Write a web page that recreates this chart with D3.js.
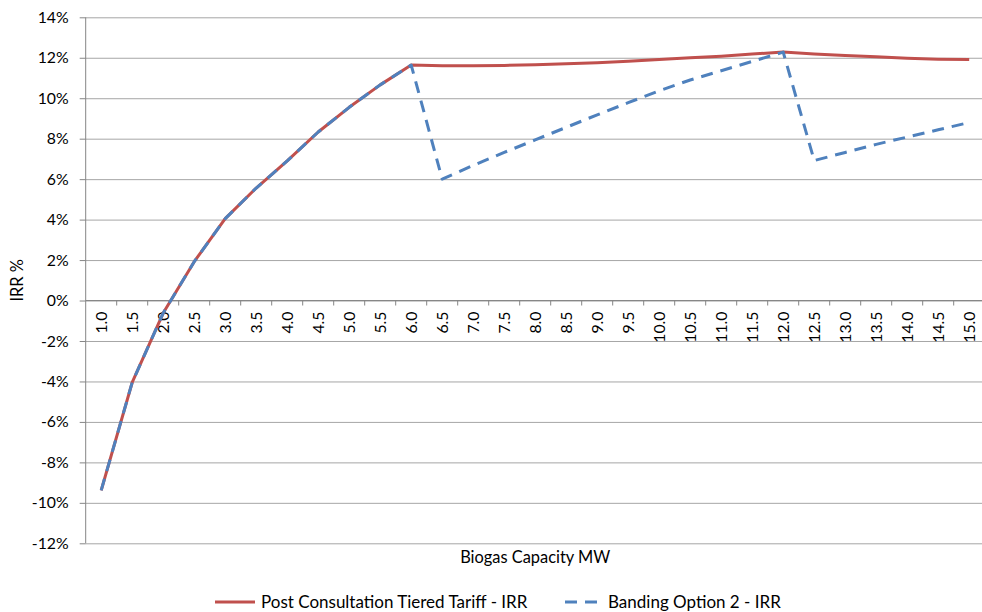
<!DOCTYPE html>
<html>
<head>
<meta charset="utf-8">
<script src="https://cdn.jsdelivr.net/npm/d3@7"></script>
<style>
  html, body { margin: 0; padding: 0; background: #fff; }
  svg { display: block; font-family: Lato, "Open Sans", sans-serif; }
</style>
</head>
<body>
<svg id="chart" width="982" height="612"></svg>
<script>
const categories = ["1.0","1.5","2.0","2.5","3.0","3.5","4.0","4.5","5.0","5.5","6.0","6.5","7.0","7.5","8.0","8.5","9.0","9.5","10.0","10.5","11.0","11.5","12.0","12.5","13.0","13.5","14.0","14.5","15.0"];
const postConsultation = [-9.38,-4.05,-0.62,1.92,4.05,5.56,6.9,8.33,9.55,10.66,11.64,11.6,11.6,11.62,11.66,11.7,11.75,11.83,11.91,12.0,12.08,12.18,12.28,12.19,12.11,12.05,11.98,11.93,11.91];
const bandingOption2 = [-9.38,-4.05,-0.62,1.92,4.05,5.56,6.9,8.33,9.55,10.66,11.64,6.0,6.68,7.32,7.94,8.56,9.18,9.78,10.37,10.9,11.36,11.82,12.28,6.92,7.32,7.72,8.08,8.44,8.8];
const yTicks = [-12,-10,-8,-6,-4,-2,0,2,4,6,8,10,12,14];
const seriesNames = ["Post Consultation Tiered Tariff - IRR","Banding Option 2 - IRR"];
const xTitle = "Biogas Capacity MW";
const yTitle = "IRR %";

const svg = d3.select("#chart");
const pLeft = 85.7, pRight = 984.7, pTop = 17.3, pBottom = 543.3;
const x = d3.scaleBand().domain(categories).range([pLeft, pRight]).paddingInner(0).paddingOuter(0);
const y = d3.scaleLinear().domain([-12, 14]).range([pBottom, pTop]);
const bw = x.bandwidth();
const fontSize = 15.8;

svg.append("rect").attr("width", 982).attr("height", 612).attr("fill", "#fff");

// gridlines
const grid = svg.append("g").attr("transform", `translate(${pLeft},0)`)
  .call(d3.axisLeft(y).tickValues(yTicks).tickSize(-(pRight - pLeft)).tickFormat(""));
grid.select(".domain").remove();
grid.selectAll("line").attr("stroke", "#a6a6a6").attr("stroke-width", 1);

// y axis
const yAxis = svg.append("g").attr("transform", `translate(${pLeft},0)`)
  .call(d3.axisLeft(y).tickValues(yTicks).tickSize(6).tickPadding(11).tickFormat(d => d + "%"));
yAxis.select(".domain").attr("stroke", "#868686").attr("d", `M0,${pTop}V${pBottom}`);
yAxis.selectAll(".tick line").attr("stroke", "#868686");
yAxis.selectAll("text").attr("font-size", fontSize).attr("fill", "#000").attr("font-family", "Lato");

// x axis at zero
const y0 = y(0);
const xAxis = svg.append("g").attr("transform", `translate(0,${y0})`)
  .call(d3.axisBottom(x).tickSize(0).tickPadding(0));
xAxis.select(".domain").attr("stroke", "#868686").attr("d", `M${pLeft},0H${pRight}`);
xAxis.selectAll(".tick text")
  .attr("font-size", fontSize).attr("fill", "#000").attr("font-family", "Lato")
  .attr("transform", "rotate(-90)")
  .attr("text-anchor", "end")
  .attr("x", -11).attr("y", 0).attr("dy", "0.35em");
// tick marks at category boundaries
xAxis.selectAll(".bound").data(categories).enter().append("line")
  .attr("class", "bound")
  .attr("x1", d => x(d) + bw).attr("x2", d => x(d) + bw)
  .attr("y1", 0).attr("y2", 5)
  .attr("stroke", "#868686");

// lines
const line = d3.line().x((d, i) => x(categories[i]) + bw / 2).y(d => y(d));
svg.append("path").datum(postConsultation).attr("d", line)
  .attr("fill", "none").attr("stroke", "#C0504D").attr("stroke-width", 3).attr("stroke-linejoin", "round");
svg.append("path").datum(bandingOption2).attr("d", line)
  .attr("fill", "none").attr("stroke", "#4F81BD").attr("stroke-width", 3)
  .attr("stroke-dasharray", "12,8").attr("stroke-linejoin", "round");

// axis titles
svg.append("text").attr("x", (pLeft + pRight) / 2).attr("y", 563)
  .attr("text-anchor", "middle").attr("font-size", 16.4).attr("fill", "#000").text(xTitle);
svg.append("text").attr("transform", `translate(23,${(pTop + pBottom) / 2}) rotate(-90)`)
  .attr("text-anchor", "middle").attr("font-size", 16.4).attr("fill", "#000").text(yTitle);

// legend
const legend = svg.append("g");
const items = [
  {name: seriesNames[0], color: "#C0504D", dash: null, x1: 215, tx: 261},
  {name: seriesNames[1], color: "#4F81BD", dash: "12,8", x1: 565, tx: 608}
];
items.forEach(it => {
  legend.append("line").attr("x1", it.x1).attr("x2", it.x1 + 40).attr("y1", 602).attr("y2", 602)
    .attr("stroke", it.color).attr("stroke-width", 3).attr("stroke-dasharray", it.dash);
  legend.append("text").attr("x", it.tx).attr("y", 608).attr("font-size", 17)
    .attr("fill", "#000").text(it.name);
});
</script>
</body>
</html>
